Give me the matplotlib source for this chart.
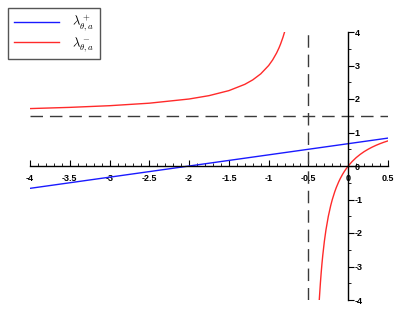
import matplotlib
matplotlib.use("Agg")
import matplotlib.pyplot as plt
from matplotlib.ticker import MultipleLocator

# lambda^+ : straight line through (-2, 0)
plus_x = [-4.0, 0.5]
plus_y = [-0.667, 0.833]

# lambda^- : two branches
minus_left_x = [-4.0, -3.5, -3.0, -2.5, -2.0, -1.75, -1.5, -1.3, -1.2, -1.1, -1.0,
                -0.95, -0.9, -0.87, -0.85, -0.82, -0.8, -0.78]
minus_left_y = [1.714, 1.75, 1.8, 1.875, 2.0, 2.1, 2.25, 2.4375, 2.571, 2.75, 3.0,
                3.167, 3.375, 3.527, 3.643, 3.844, 4.0, 4.179]
minus_right_x = [-0.364, -0.36, -0.35, -0.34, -0.33, -0.32, -0.3, -0.28, -0.25, -0.22,
                 -0.2, -0.17, -0.15, -0.12, -0.1, -0.07, -0.05, -0.02, 0.0, 0.05, 0.1,
                 0.15, 0.2, 0.25, 0.3, 0.35, 0.4, 0.45, 0.5]
minus_right_y = [-4.0, -3.857, -3.5, -3.1875, -2.912, -2.667, -2.25, -1.909, -1.5, -1.179,
                 -1.0, -0.773, -0.643, -0.474, -0.375, -0.244, -0.167, -0.0625, 0.0, 0.136, 0.25,
                 0.346, 0.429, 0.5, 0.5625, 0.618, 0.667, 0.711, 0.75]

vline_x = -0.5
hline_y = 1.5

xticks = [-4, -3.5, -3, -2.5, -2, -1.5, -1, -0.5, 0, 0.5]
xlabels = ["-4", "-3.5", "-3", "-2.5", "-2", "-1.5", "-1", "-0.5", "0", "0.5"]
yticks = [-4, -3, -2, -1, 0, 1, 2, 3, 4]
ylabels = ["-4", "-3", "-2", "-1", "0", "1", "2", "3", "4"]

plt.rcParams['font.family'] = ['Liberation Sans', 'DejaVu Sans']
plt.rcParams['mathtext.fontset'] = 'cm'

fig = plt.figure(figsize=(4.07, 3.25), dpi=100)
ax = fig.add_axes([30/407, 25/325, 358/407, 268/325])

ax.plot(plus_x, plus_y, color='#1a1aff', lw=1.0, label=r'$\lambda^+_{\theta,a}$')
ax.plot(minus_left_x, minus_left_y, color='#ff2a2a', lw=1.0, label=r'$\lambda^-_{\theta,a}$')
ax.plot(minus_right_x, minus_right_y, color='#ff2a2a', lw=1.0)
ax.axvline(vline_x, color='#3a3a3a', lw=1.0, dashes=(9, 5))
ax.axhline(hline_y, color='#3a3a3a', lw=1.0, dashes=(9, 5))

ax.set_xlim(-4, 0.5)
ax.set_ylim(-4, 4)

# axes crossing at the origin; y ticks and labels on the right side of x=0
ax.spines['right'].set_position(('data', 0))
ax.spines['bottom'].set_position(('data', 0))
ax.spines['left'].set_visible(False)
ax.spines['top'].set_visible(False)
ax.spines['right'].set_linewidth(1.0)
ax.spines['bottom'].set_linewidth(1.0)
ax.yaxis.set_ticks_position('right')
ax.xaxis.set_ticks_position('bottom')

ax.set_xticks(xticks)
ax.set_xticklabels(xlabels)
ax.set_yticks(yticks)
ax.set_yticklabels(ylabels)
ax.xaxis.set_minor_locator(MultipleLocator(0.1))
ax.yaxis.set_minor_locator(MultipleLocator(0.5))
ax.tick_params(axis='x', which='major', direction='in', length=4.5, width=0.8, labelsize=6.5, pad=5.5)
ax.tick_params(axis='x', which='minor', direction='in', length=2, width=0.6)
ax.tick_params(axis='y', which='major', direction='out', length=4, width=0.8, labelsize=6.5, pad=0.5)
ax.tick_params(axis='y', which='minor', direction='out', length=2.5, width=0.6)
for lab in ax.get_xticklabels() + ax.get_yticklabels():
    lab.set_fontweight('bold')

leg = fig.legend(loc='upper left', bbox_to_anchor=(8/407, 1 - 8/325), fontsize=9,
                 fancybox=False, edgecolor='#555555', framealpha=1, handlelength=3.6,
                 borderpad=0.45, labelspacing=0.15, handletextpad=1.1, borderaxespad=0)
leg.get_frame().set_linewidth(1.0)

fig.savefig('out.png', dpi=100)
